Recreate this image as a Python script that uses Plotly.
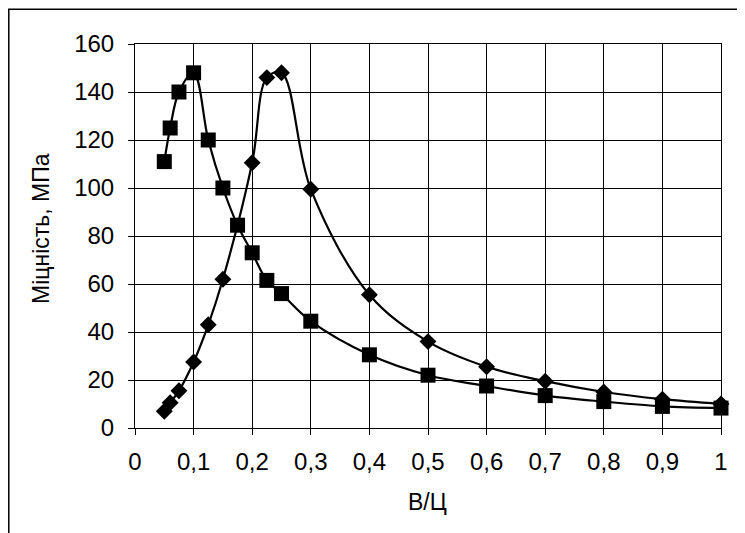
import plotly.graph_objects as go

# Data
x_squares = [0.05, 0.06, 0.075, 0.1, 0.125, 0.15, 0.175, 0.2, 0.225, 0.25, 0.3, 0.4, 0.5, 0.6, 0.7, 0.8, 0.9, 1.0]
y_squares = [111, 125, 140, 148, 120, 100, 84.5, 73, 61.5, 56, 44.5, 30.5, 22, 17.5, 13.5, 11, 9, 8.3]

x_diamonds = [0.05, 0.06, 0.075, 0.1, 0.125, 0.15, 0.2, 0.225, 0.25, 0.3, 0.4, 0.5, 0.6, 0.7, 0.8, 0.9, 1.0]
y_diamonds = [7, 10.5, 15.5, 27.5, 43, 62, 110.5, 146, 148, 99.5, 55.5, 36, 25.5, 19.5, 15, 12, 10]

x_title = "В/Ц"
y_title = "Міцність, МПа"

# page has an 8px body margin, so the figure is sized to fit the window
W, H = 737, 525
ml, mr, mt, mb = 127, 24, 36, 105
pw = W - ml - mr
ph = H - mt - mb

def px(xf):
    return (xf - ml) / pw

def py(yf):
    return (H - mb - yf) / ph

fig = go.Figure()
fig.add_trace(go.Scatter(
    x=x_squares, y=y_squares, mode="lines+markers",
    line=dict(color="black", width=2.2, shape="spline", smoothing=1),
    marker=dict(symbol="square", size=15, color="black"),
    showlegend=False, cliponaxis=False,
))
fig.add_trace(go.Scatter(
    x=x_diamonds, y=y_diamonds, mode="lines+markers",
    line=dict(color="black", width=2.2, shape="spline", smoothing=1),
    marker=dict(symbol="diamond", size=13, color="black"),
    showlegend=False, cliponaxis=False,
))

fig.add_shape(type="rect", xref="paper", yref="paper",
              x0=px(0.8), x1=px(W + 10),
              y0=py(H + 10), y1=py(1.2),
              line=dict(color="black", width=1.5), fillcolor="rgba(0,0,0,0)", layer="below")

fig.add_annotation(text=y_title, xref="paper", yref="paper", x=px(33), y=py(221),
                   xanchor="center", yanchor="middle", textangle=-90, showarrow=False,
                   font=dict(size=23))
fig.add_annotation(text=x_title, xref="paper", yref="paper", x=px(419), y=py(494),
                   xanchor="center", yanchor="middle", showarrow=False,
                   font=dict(size=23))

font = "Liberation Sans, Arial, sans-serif"
axis_common = dict(showgrid=True, gridcolor="black", gridwidth=1,
                   ticks="outside", ticklen=6, tickcolor="black", tickwidth=1,
                   showline=True, linecolor="black", linewidth=1, mirror=True, zeroline=False,
                   tickfont=dict(size=24))
fig.update_layout(
    width=W, height=H,
    margin=dict(l=ml, r=mr, t=mt, b=mb, autoexpand=False),
    paper_bgcolor="white", plot_bgcolor="white",
    separators=", ",
    font=dict(family=font, color="black", size=22),
    xaxis=dict(range=[0, 1], dtick=0.1, tick0=0, ticklabelstandoff=6, **axis_common),
    yaxis=dict(range=[0, 160], dtick=20, tick0=0, ticklabelstandoff=9, **axis_common),
)

fig.write_html("out.html")
